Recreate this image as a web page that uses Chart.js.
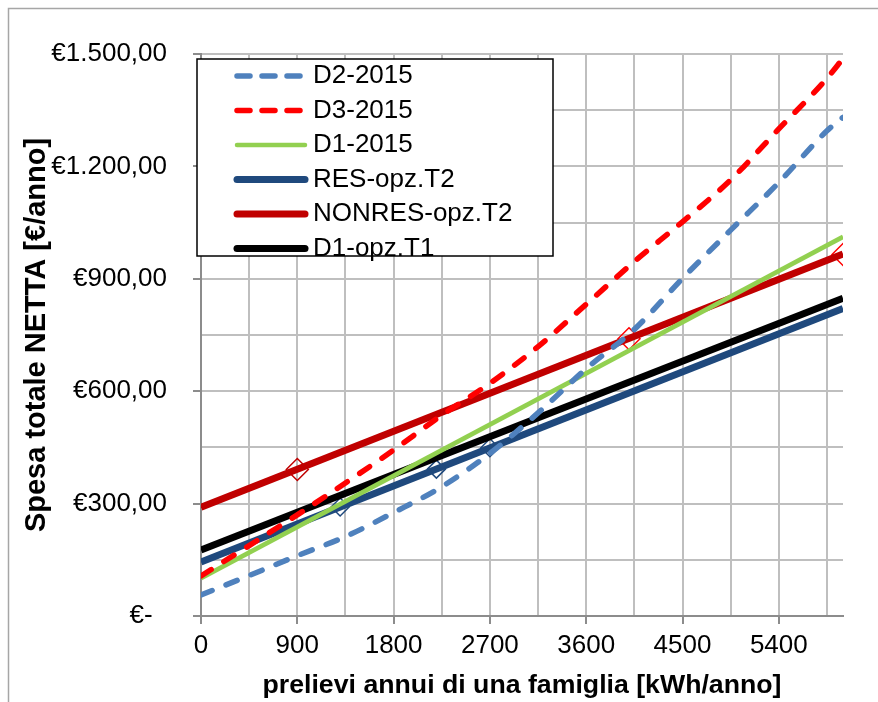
<!DOCTYPE html>
<html>
<head>
<meta charset="utf-8">
<script src="https://cdn.jsdelivr.net/npm/chart.js@4.4.1/dist/chart.umd.min.js"></script>
<style>
  html, body { margin: 0; background: #fff; }
  canvas { display: block; }
</style>
</head>
<body>
<canvas id="chart" width="878" height="702"></canvas>
<script>
// prelievi annui (kWh/anno) -> spesa totale netta (€/anno)
const xCurve = [0, 450, 900, 1350, 1800, 2250, 2700, 3150, 3600, 4050, 4500, 4950, 5400, 5850, 6000];
const d2_2015 = [56, 108, 161, 212, 276, 345, 434, 542, 660, 765, 901, 1030, 1157, 1295, 1331];
const d3_2015 = [107, 188, 270, 355, 443, 536, 621, 719, 832, 946, 1052, 1164, 1300, 1435, 1488];

const xLine = [0, 6000];
const d1_2015 = [101, 1012];
const resT2 = [144, 821];
const nonresT2 = [290, 966];
const d1T1 = [176, 848];

// marcatori a rombo
const resMarkX = [1300, 2200, 2700];
const resMarkY = [291, 392, 449];
const nonresMarkX = [900, 4000, 6000];
const nonresMarkY = [391, 740, 965];

// griglia ed etichette degli assi
const xGridValues = [0, 450, 900, 1350, 1800, 2250, 2700, 3150, 3600, 4050, 4500, 4950, 5400, 5850];
const xTickValues = [0, 900, 1800, 2700, 3600, 4500, 5400];
const yGridValues = [0, 150, 300, 450, 600, 750, 900, 1050, 1200, 1350, 1500];
const yTickValues = [0, 300, 600, 900, 1200, 1500];
const yTickLabels = ['€-  ', '€300,00', '€600,00', '€900,00', '€1.200,00', '€1.500,00'];

const pts = (xs, ys) => xs.map((x, i) => ({ x: x, y: ys[i] }));
const FONT = "'Liberation Sans', Arial, sans-serif";

const legendDash = { 'D2-2015': [13, 12], 'D3-2015': [13, 12] };

// legenda disegnata dentro l'area del grafico
const boxLegend = {
  id: 'boxLegend',
  afterDraw(chart) {
    const c = chart.ctx;
    c.save();
    c.fillStyle = '#fff';
    c.fillRect(197, 59, 356, 197);
    c.strokeStyle = '#000';
    c.lineWidth = 1.5;
    c.strokeRect(197, 59, 356, 197);
    c.font = '26px ' + FONT;
    c.textBaseline = 'middle';
    chart.data.datasets.slice(0, 6).forEach((ds, i) => {
      const y = 76 + i * 34.5;
      c.beginPath();
      c.strokeStyle = ds.borderColor;
      c.lineWidth = ds.borderWidth;
      c.lineCap = 'round';
      c.setLineDash(legendDash[ds.label] || []);
      c.moveTo(237, y);
      c.lineTo(305, y);
      c.stroke();
      c.setLineDash([]);
      c.fillStyle = '#000';
      c.fillText(ds.label, 313, y);
    });
    c.restore();
  }
};

const frame = {
  id: 'frame',
  beforeDraw(chart) {
    const c = chart.ctx;
    c.save();
    c.fillStyle = '#fff';
    c.fillRect(0, 0, chart.width, chart.height);
    c.strokeStyle = '#a6a6a6';
    c.lineWidth = 1.5;
    c.strokeRect(8.5, 8.5, 1000, 1000);
    c.restore();
  }
};

new Chart(document.getElementById('chart'), {
  type: 'line',
  data: {
    datasets: [
      { label: 'D2-2015', data: pts(xCurve, d2_2015), borderColor: '#4F81BD', borderWidth: 5.5,
        borderDash: [12, 15], borderCapStyle: 'round', cubicInterpolationMode: 'monotone' },
      { label: 'D3-2015', data: pts(xCurve, d3_2015), borderColor: '#FF0000', borderWidth: 5.5,
        borderDash: [12, 15], borderCapStyle: 'round', cubicInterpolationMode: 'monotone' },
      { label: 'D1-2015', data: pts(xLine, d1_2015), borderColor: '#92D050', borderWidth: 4.5 },
      { label: 'RES-opz.T2', data: pts(xLine, resT2), borderColor: '#1F497D', borderWidth: 7 },
      { label: 'NONRES-opz.T2', data: pts(xLine, nonresT2), borderColor: '#C00000', borderWidth: 7 },
      { label: 'D1-opz.T1', data: pts(xLine, d1T1), borderColor: '#000000', borderWidth: 7 },
      { label: 'res-mark', data: pts(resMarkX, resMarkY), showLine: false, pointStyle: 'rectRot',
        pointRadius: 9, pointBorderWidth: 1.5, pointBorderColor: '#1F497D', pointBackgroundColor: 'rgba(0,0,0,0)' },
      { label: 'nonres-mark', data: pts(nonresMarkX, nonresMarkY), showLine: false, pointStyle: 'rectRot',
        pointRadius: 11, pointBorderWidth: 1.5, pointBorderColor: ['#C00000', '#FF0000', '#FF0000'],
        pointBackgroundColor: 'rgba(0,0,0,0)' }
    ]
  },
  options: {
    responsive: false,
    animation: false,
    devicePixelRatio: 1,
    layout: { padding: { left: 10, top: 54, right: 35, bottom: 0 } },
    elements: { point: { radius: 0 }, line: { tension: 0 } },
    plugins: { legend: { display: false }, tooltip: { enabled: false } },
    scales: {
      x: {
        type: 'linear',
        min: 0,
        max: 6000,
        afterFit: s => { s.height = 86; },
        afterBuildTicks: s => { s.ticks = xGridValues.map(v => ({ value: v })); },
        ticks: {
          autoSkip: false,
          maxRotation: 0,
          padding: 6,
          color: '#000',
          font: { family: FONT, size: 26 },
          callback: v => (xTickValues.includes(v) ? String(v) : '')
        },
        grid: {
          color: '#bfbfbf',
          lineWidth: 2,
          tickLength: 8,
          tickColor: ctx => (ctx.tick && xTickValues.includes(ctx.tick.value) ? '#8c8c8c' : 'rgba(0,0,0,0)')
        },
        border: { color: '#8c8c8c', width: 2 },
        title: {
          display: true,
          text: 'prelievi annui di una famiglia [kWh/anno]',
          color: '#000',
          font: { family: FONT, size: 26.7, weight: 'bold' },
          padding: { top: 0, bottom: 0 }
        }
      },
      y: {
        min: 0,
        max: 1500,
        afterFit: s => { s.width = 191; },
        afterBuildTicks: s => { s.ticks = yGridValues.map(v => ({ value: v })); },
        ticks: {
          autoSkip: false,
          padding: 26,
          color: '#000',
          font: { family: FONT, size: 26 },
          callback: v => {
            const i = yTickValues.indexOf(v);
            return i >= 0 ? yTickLabels[i] : '';
          }
        },
        grid: {
          color: '#bfbfbf',
          lineWidth: 2,
          tickLength: 8,
          tickColor: ctx => (ctx.tick && yTickValues.includes(ctx.tick.value) ? '#8c8c8c' : 'rgba(0,0,0,0)')
        },
        border: { color: '#8c8c8c', width: 2 },
        title: {
          display: true,
          text: 'Spesa totale NETTA [€/anno]',
          color: '#000',
          font: { family: FONT, size: 29, weight: 'bold' },
          padding: { top: 10, bottom: 0 }
        }
      }
    }
  },
  plugins: [frame, boxLegend]
});
</script>
</body>
</html>
